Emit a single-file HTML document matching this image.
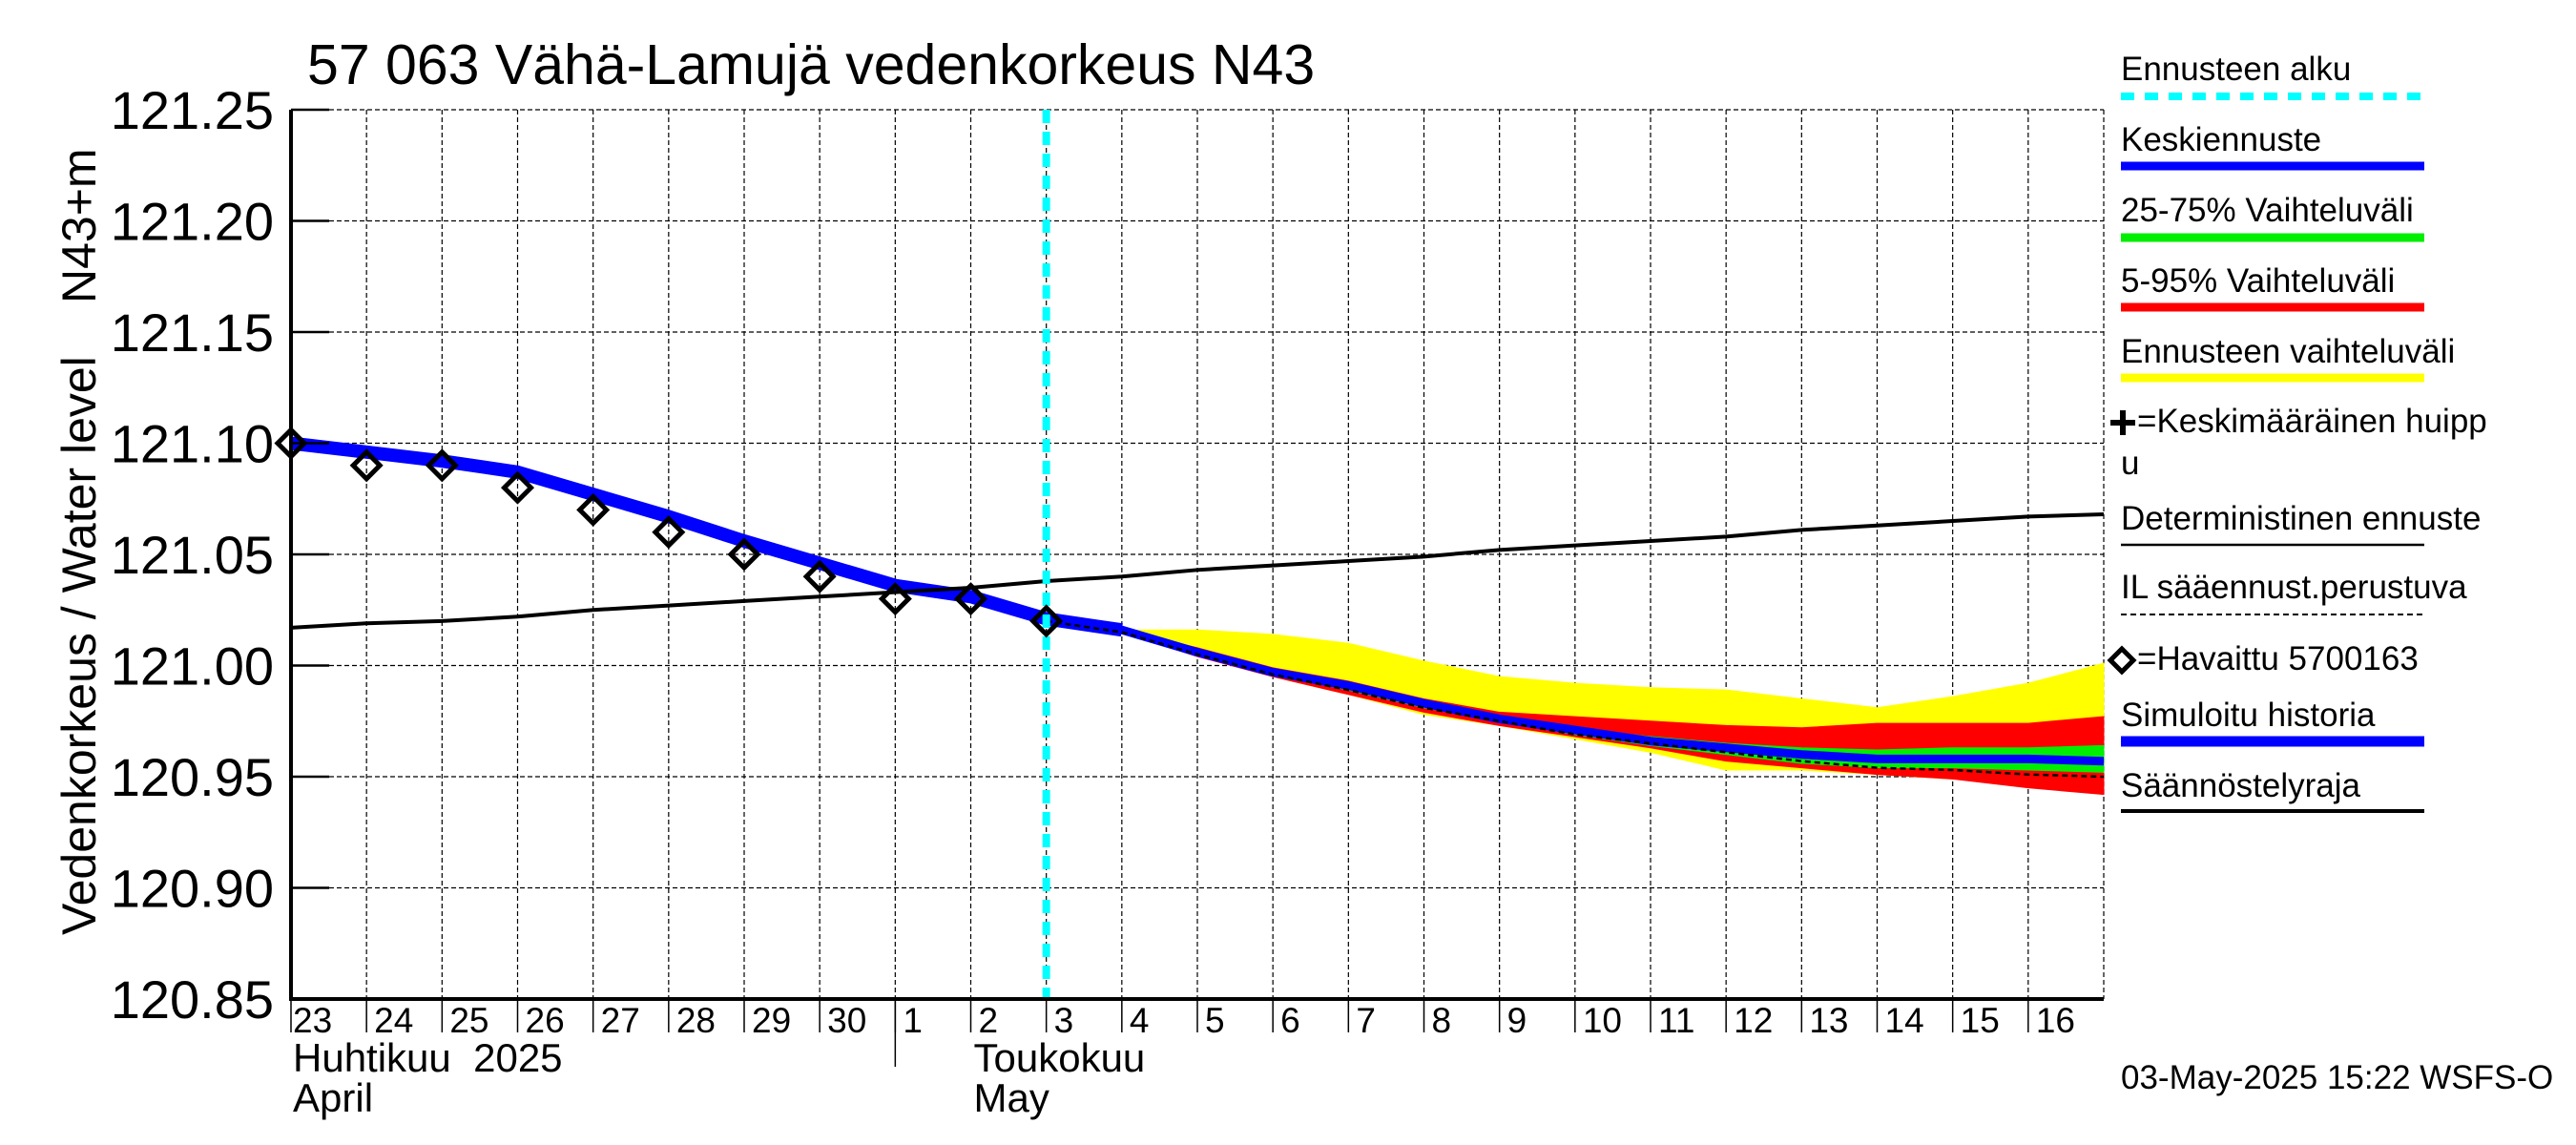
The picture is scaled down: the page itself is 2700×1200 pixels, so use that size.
<!DOCTYPE html>
<html><head><meta charset="utf-8"><style>
body{margin:0;background:#fff;}
svg{display:block;font-family:"Liberation Sans",sans-serif;}
</style></head><body>
<svg id="chart" width="2700" height="1200" viewBox="0 0 2700 1200" xmlns="http://www.w3.org/2000/svg">
<rect width="2700" height="1200" fill="#fff"/>
<g id="grid"></g>
<g id="bands"></g>
<g id="lines"></g>
<g id="axes"></g>
<text x="322" y="88" font-size="59">57 063 Vähä-Lamujä vedenkorkeus N43</text>
<text transform="translate(100,980) rotate(-90)" text-anchor="start" font-size="50">Vedenkorkeus / Water level</text>
<text transform="translate(100,318) rotate(-90)" text-anchor="start" font-size="50">N43+m</text>
<g id="legend"></g>
<text x="2223" y="1141" font-size="35">03-May-2025 15:22 WSFS-O</text>
</svg>
<script>
// ---- data ----
const yTicks = [120.85,120.90,120.95,121.00,121.05,121.10,121.15,121.20,121.25];
const dayLabels = ["23","24","25","26","27","28","29","30","1","2","3","4","5","6","7","8","9","10","11","12","13","14","15","16"];
const observed = [121.10,121.09,121.09,121.08,121.07,121.06,121.05,121.04,121.03,121.03,121.02];
const simulated = [121.10,121.096,121.092,121.087,121.077,121.067,121.056,121.046,121.036,121.031,121.021,121.016];
const deterministic = [121.017,121.019,121.020,121.022,121.025,121.027,121.029,121.031,121.033,121.035,121.038,121.040,121.043,121.045,121.047,121.049,121.052,121.054,121.056,121.058,121.061,121.063,121.065,121.067,121.068];
// forecast from May 3 (day index 10) to May 17 (index 24)
const fcStart = 10;
const yellowHi = [121.02,121.016,121.016,121.014,121.010,121.002,120.995,120.992,120.990,120.989,120.985,120.981,120.986,120.992,121.001];
const yellowLo = [121.02,121.015,121.005,120.995,120.987,120.978,120.973,120.967,120.961,120.953,120.953,120.951,120.949,120.947,120.944];
const redHi = [121.02,121.016,121.008,120.999,120.993,120.985,120.979,120.977,120.975,120.973,120.972,120.974,120.974,120.974,120.977];
const redLo = [121.02,121.015,121.004,120.995,120.987,120.979,120.973,120.968,120.963,120.957,120.954,120.951,120.949,120.945,120.942];
const greenHi = [121.02,121.016,121.007,120.998,120.992,120.984,120.977,120.972,120.968,120.965,120.963,120.962,120.963,120.963,120.964];
const greenLo = [121.02,121.016,121.005,120.996,120.989,120.981,120.975,120.969,120.964,120.960,120.956,120.954,120.954,120.953,120.952];
const median = [121.02,121.016,121.006,120.997,120.991,120.983,120.976,120.971,120.966,120.963,120.960,120.958,120.958,120.958,120.957];
const ilForecast = [121.02,121.015,121.005,120.996,120.989,120.981,120.975,120.969,120.965,120.961,120.957,120.954,120.953,120.951,120.950];
const forecastStartDay = 10;

// ---- axes ----
const X0=305, X1=2205, Y0=115, Y1=1047, VMIN=120.85, VMAX=121.25, NDAYS=24;
const xs = d => X0 + d*(X1-X0)/NDAYS;
const ys = v => Y0 + (VMAX-v)/(VMAX-VMIN)*(Y1-Y0);
const NS="http://www.w3.org/2000/svg";
function mk(parent,tag,attrs){const e=document.createElementNS(NS,tag);for(const k in attrs)e.setAttribute(k,attrs[k]);parent.appendChild(e);return e;}
const grid=document.getElementById('grid'), bands=document.getElementById('bands'), lines=document.getElementById('lines'), axes=document.getElementById('axes'), legend=document.getElementById('legend');

yTicks.forEach((v,i)=>{
  const y=ys(v);
  const g=mk(grid,'line',{x1:X0,x2:X1,y1:y,y2:y,stroke:'#000','stroke-width':1.2,'stroke-dasharray':'5,3'});
  
  
  const tk=mk(axes,'line',{x1:X0,x2:X0+40,y1:y,y2:y,stroke:'#000','stroke-width':2.5});
  
  
  const t=mk(axes,'text',{x:287,y:y+20,'text-anchor':'end','font-size':56});
  t.textContent=v.toFixed(2);
  
  
});
for(let d=1; d<=NDAYS; d++){
  const x=xs(d);
  const g=mk(grid,'line',{x1:x,x2:x,y1:Y0,y2:Y1,stroke:'#000','stroke-width':1.2,'stroke-dasharray':'5,3'});
  
  
}
dayLabels.forEach((s,d)=>{
  const x=xs(d);
  const tk=mk(axes,'line',{x1:x,x2:x,y1:Y1,y2:Y1+35,stroke:'#000','stroke-width':1.5});
  
  
  const t=mk(axes,'text',{x:x+(d==0?2:8),y:1082,'font-size':37});
  t.textContent=s;
  
  
});
const ms=mk(axes,'line',{x1:xs(8),x2:xs(8),y1:Y1,y2:1118,stroke:'#000','stroke-width':1.5});


[["Huhtikuu  2025",xs(0)+2,1123],["April",xs(0)+2,1165],["Toukokuu",xs(9)+3,1123],["May",xs(9)+3,1165]].forEach(a=>{
  const t=mk(axes,'text',{x:a[1],y:a[2],'font-size':42,style:'white-space:pre'});
  t.textContent=a[0];
  
  
});
const ax=mk(axes,'path',{d:`M${X0},${Y0} V${Y1} H${X1}`,fill:'none',stroke:'#000','stroke-width':4});



function band(hi,lo,color,name){
  let p=hi.map((v,i)=>`${xs(fcStart+i)},${ys(v)}`);
  let q=lo.map((v,i)=>`${xs(fcStart+i)},${ys(v)}`).reverse();
  const e=mk(bands,'polygon',{points:p.concat(q).join(' '),fill:color,stroke:color,'stroke-width':1});
  
  
}
band(yellowHi,yellowLo,'#ffff00','forecast-range-band');
band(redHi,redLo,'#ff0000','band-5-95');
band(greenHi,greenLo,'#00ee00','band-25-75');

function poly(vals,start,attrs,name,parent){
  const pts=vals.map((v,i)=>`${xs(start+i)},${ys(v)}`).join(' ');
  const e=mk(parent||lines,'polyline',Object.assign({points:pts,fill:'none','stroke-linejoin':'round'},attrs));
  
  
}
poly(simulated,0,{stroke:'#0000ff','stroke-width':14},'simulated-history');
poly(deterministic,0,{stroke:'#000','stroke-width':4},'deterministic-forecast');
poly(median,fcStart,{stroke:'#0000ff','stroke-width':9},'median-forecast');
poly(ilForecast,fcStart,{stroke:'#000','stroke-width':2.5,'stroke-dasharray':'6,4'},'il-weather-forecast');

const cy=mk(lines,'line',{x1:xs(forecastStartDay),x2:xs(forecastStartDay),y1:Y0,y2:Y1,stroke:'#00ffff','stroke-width':8,'stroke-dasharray':'14,9'});



observed.forEach((v,i)=>{
  const x=xs(i),y=ys(v),r=14;
  const e=mk(lines,'polygon',{points:`${x},${y-r} ${x+r},${y} ${x},${y+r} ${x-r},${y}`,fill:'#fff','fill-opacity':0,stroke:'#000','stroke-width':5});
  
  
});

// ---- legend ----
const LX=2223, LX2=2541;
function ltext(s,y,x){const t=mk(legend,'text',{x:x||LX,y:y,'font-size':35});t.textContent=s;return t;}
function lline(y,attrs){const e=mk(legend,'line',Object.assign({x1:LX,x2:LX2,y1:y,y2:y},attrs));}
ltext("Ennusteen alku",84); lline(101,{stroke:'#00ffff','stroke-width':8,'stroke-dasharray':'14,11'});
ltext("Keskiennuste",158); lline(174,{stroke:'#0000ff','stroke-width':9});
ltext("25-75% Vaihteluväli",232); lline(249,{stroke:'#00ee00','stroke-width':9});
ltext("5-95% Vaihteluväli",306); lline(322,{stroke:'#ff0000','stroke-width':9});
ltext("Ennusteen vaihteluväli",380); lline(396,{stroke:'#ffff00','stroke-width':9});
ltext("=Keskimääräinen huipp",453,2240); ltext("u",497);
const pl=mk(legend,'path',{d:'M2212,443 h26 M2225,430 v26',stroke:'#000','stroke-width':6});


ltext("Deterministinen ennuste",555); lline(571,{stroke:'#000','stroke-width':2.5});
ltext("IL sääennust.perustuva",627); lline(644,{stroke:'#000','stroke-width':2,'stroke-dasharray':'6,4'});
ltext("=Havaittu 5700163",702,2240);
const dm=mk(legend,'polygon',{points:'2224,680 2236,692 2224,704 2212,692',fill:'none',stroke:'#000','stroke-width':5});


ltext("Simuloitu historia",761); lline(777,{stroke:'#0000ff','stroke-width':11});
ltext("Säännöstelyraja",835); lline(850,{stroke:'#000','stroke-width':4});
</script>
</body></html>
